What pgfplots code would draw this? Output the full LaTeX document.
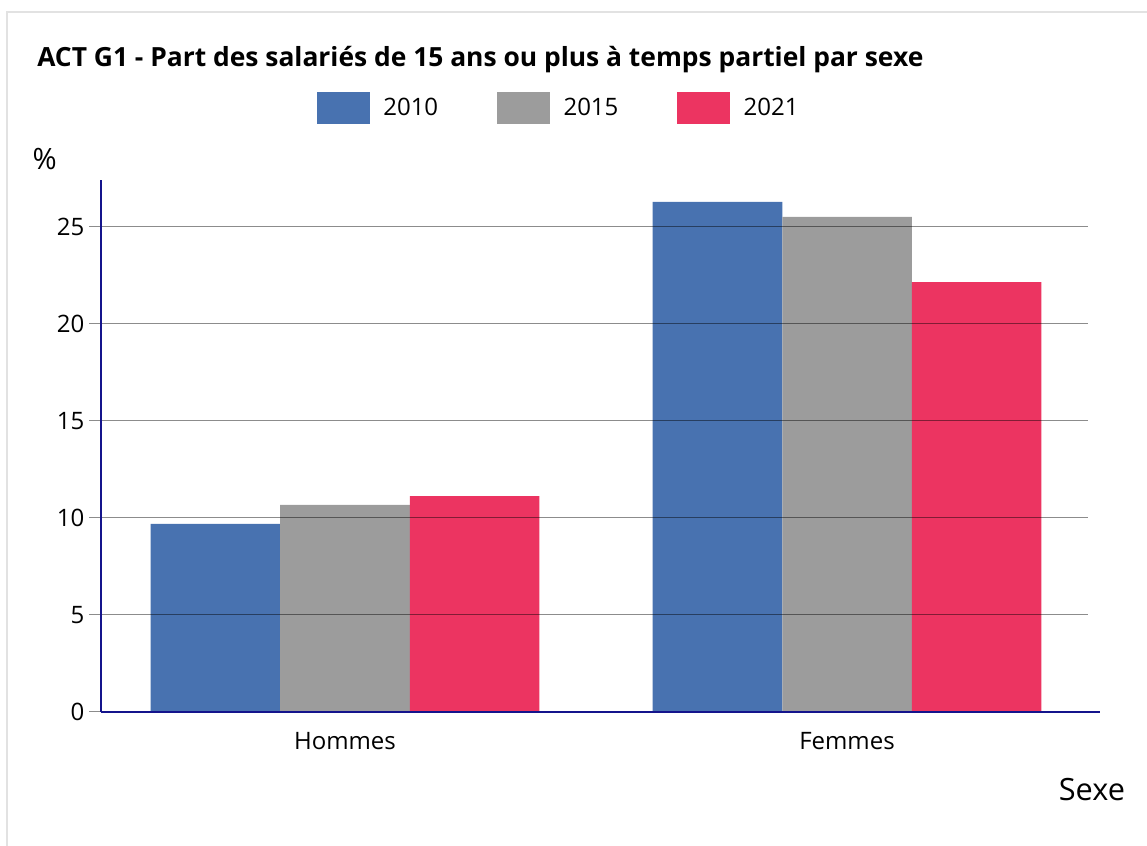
\documentclass[border=0pt]{standalone}
\usepackage{fontspec}
\setmainfont{Open Sans}
\usepackage{pgfplots}
\pgfplotsset{compat=1.18}
\definecolor{c2010}{HTML}{4872B0}
\definecolor{c2015}{HTML}{9C9C9C}
\definecolor{c2021}{HTML}{EC3461}
\definecolor{axisnavy}{HTML}{14148C}
\definecolor{gridgray}{HTML}{8C8C8C}
\definecolor{framegray}{HTML}{E2E2E2}
\newcommand{\chartfont}{\fontsize{18}{21}\selectfont}
\begin{document}
\begin{tikzpicture}[x=0.75pt,y=0.75pt]
\useasboundingbox (0,0) rectangle (1147,846);
\draw[framegray, line width=1.5pt] (7,0) -- (7,834) -- (1147,834);
\node[anchor=base west, inner sep=0pt, font=\bfseries\fontsize{19.8}{23}\selectfont] at (37,779)
  {ACT G1 - Part des salariés de 15 ans ou plus à temps partiel par sexe};
\begin{axis}[
  scale only axis, width=740.25pt, height=399pt,
  at={(75.75pt,100.5pt)}, anchor=south west,
  font=\chartfont,
  axis on top,
  xmin=-0.486, xmax=1.48, ymin=0, ymax=27.42,
  axis x line=bottom, axis y line=left,
  axis line style={-, axisnavy, line width=1.5pt},
  x axis line style={shorten >=-9pt},
  ybar=0pt, bar width=0.258,
  xtick={0,1}, xticklabels={Hommes, Femmes},
  x tick style={draw=none},
  x tick label style={yshift=-3pt},
  ytick={0,5,...,25},
  y tick style={draw=gridgray, line width=0.75pt},
  tick align=outside, major tick length=9pt,
  ymajorgrids, grid style={black, opacity=0.45, line width=0.75pt},
  /pgf/number format/assume math mode=true,
  tick label style={font=\chartfont},
  ylabel={\fontsize{22}{26}\selectfont\%},
  ylabel style={rotate=-90, at={(axis description cs:-0.057,1.04)}, anchor=center},
  xlabel={Sexe},
  xlabel style={font=\fontsize{23}{27}\selectfont, at={(axis description cs:1.004,-0.145)}, anchor=center},
  legend columns=3,
  legend image code/.code={\fill[#1] (0pt,-12pt) rectangle (40pt,12pt);},
  legend style={draw=none, fill=none, font=\chartfont,
    at={(axis description cs:0.464,1.135)}, anchor=center,
    /tikz/every odd column/.append style={column sep=8pt},
    /tikz/every even column/.append style={column sep=42pt}},
]
\addplot[fill=c2010, draw=none] coordinates {(0,9.69) (1,26.29)};
\addlegendentry{2010}
\addplot[fill=c2015, draw=none] coordinates {(0,10.67) (1,25.52)};
\addlegendentry{2015}
\addplot[fill=c2021, draw=none] coordinates {(0,11.13) (1,22.16)};
\addlegendentry{2021}
\end{axis}
\end{tikzpicture}
\end{document}
